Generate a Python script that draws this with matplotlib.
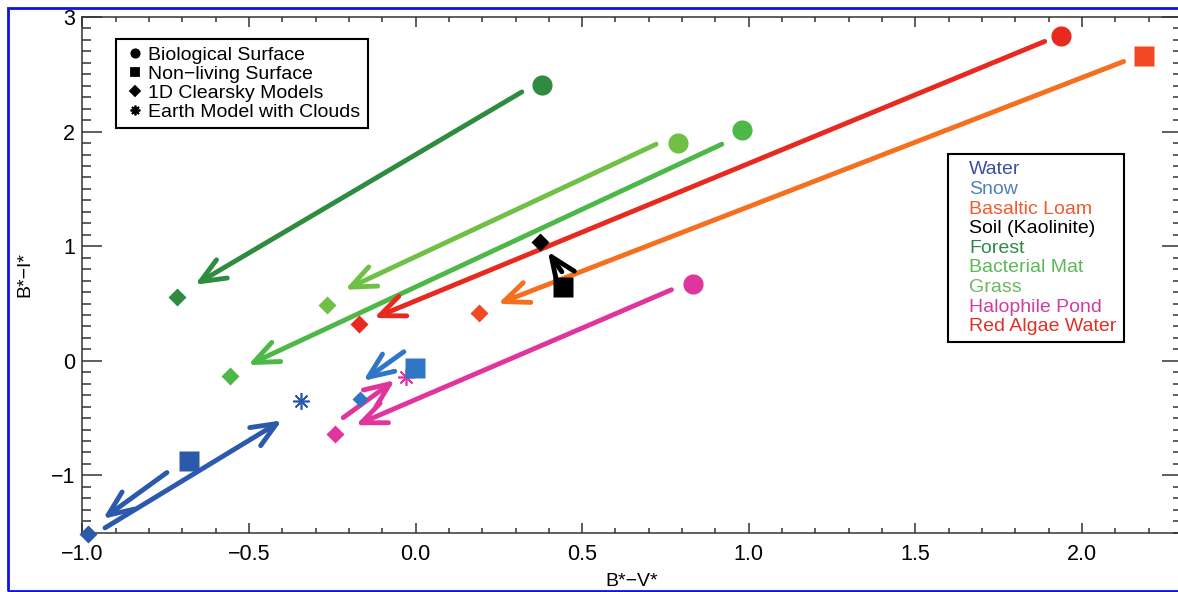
import matplotlib.pyplot as plt
from matplotlib.patches import Rectangle
from matplotlib.ticker import MultipleLocator, FuncFormatter

plt.rcParams['font.family'] = ['Liberation Sans', 'DejaVu Sans']

# colour indices: surface spectra and model points for each case
names = ['Water', 'Snow', 'Basaltic Loam', 'Soil (Kaolinite)', 'Forest',
         'Bacterial Mat', 'Grass', 'Halophile Pond', 'Red Algae Water']
colors = ['#2b59ab', '#2f77c6', '#f04923', 'black', '#2e8b40',
          '#4db848', '#6fc045', '#e0359d', '#e8291f']
text_colors = ['#3a4ea6', '#4f80c0', '#f05a30', 'black', '#2f8a48',
               '#5cb85a', '#6cb85a', '#d03ca0', '#e03028']

# surface points: 'o' = biological, 's' = non-living
surf_x = [-0.680, -0.002, 2.185, 0.442, 0.379, 0.980, 0.789, 0.833, 1.938]
surf_y = [-0.870, -0.067, 2.662, 0.646, 2.408, 2.013, 1.899, 0.672, 2.834]
surf_marker = ['s', 's', 's', 's', 'o', 'o', 'o', 'o', 'o']

# 1D clearsky model points
model_x = [-0.982, -0.167, 0.190, 0.373, -0.715, -0.557, -0.266, -0.242, -0.170]
model_y = [-1.513, -0.330, 0.415, 1.040, 0.561, -0.134, 0.488, -0.642, 0.319]
model_size = [9.5, 8, 9, 9, 9.5, 9.5, 9.5, 9.5, 9]

# earth model with clouds (water, halophile pond)
cloud_idx = [0, 7]
cloud_x = [-0.345, -0.029]
cloud_y = [-0.353, -0.140]

# arrows (tail -> head) and the case each belongs to
arrow_idx = [0, 0, 1, 2, 3, 4, 5, 6, 7, 7, 8]
arrow_x0 = [-0.746, -0.932, -0.035, 2.125, 0.439, 0.319, 0.919, 0.722, 0.768, -0.217, 1.888]
arrow_y0 = [-0.975, -1.458, 0.079, 2.612, 0.777, 2.346, 1.890, 1.890, 0.620, -0.496, 2.787]
arrow_x1 = [-0.938, -0.401, -0.157, 0.247, 0.397, -0.662, -0.503, -0.212, -0.180, -0.062, -0.125]
arrow_y1 = [-1.379, -0.520, -0.175, 0.497, 0.953, 0.663, -0.038, 0.620, -0.563, -0.169, 0.373]

arrow_colors = list(colors)
arrow_colors[2] = '#f4701f'

W, H = 1178, 592
fig = plt.figure(figsize=(W / 100, H / 100), dpi=100)
ax = fig.add_axes([82.3 / W, 1 - 532.7 / H, (1182 - 82.3) / W, (532.7 - 17) / H])

for k in range(len(arrow_idx)):
    ax.annotate('', xy=(arrow_x1[k], arrow_y1[k]), xytext=(arrow_x0[k], arrow_y0[k]),
                arrowprops=dict(arrowstyle='->,head_length=0.9,head_width=0.38',
                                lw=3.5, color=arrow_colors[arrow_idx[k]],
                                shrinkA=0, shrinkB=0, mutation_scale=20))

for k, i in enumerate(cloud_idx):
    ax.plot(cloud_x[k], cloud_y[k], marker=(8, 2, 0), ms=12, mew=1.2,
            color=colors[i], ls='none', zorder=3)
for i in range(len(names)):
    ax.plot(surf_x[i], surf_y[i], marker=surf_marker[i], ms=14.5,
            color=colors[i], mec='none', ls='none', zorder=4, clip_on=False)
    ax.plot(model_x[i], model_y[i], marker='D', ms=model_size[i],
            color=colors[i], mec='none', ls='none', zorder=4, clip_on=False)

ax.set_xlim(-1.0, 2.3)
ax.set_ylim(-1.5, 3.0)
ax.xaxis.set_major_locator(MultipleLocator(0.5))
ax.xaxis.set_minor_locator(MultipleLocator(0.1))
ax.yaxis.set_major_locator(MultipleLocator(1))
ax.yaxis.set_minor_locator(MultipleLocator(0.1))
ax.xaxis.set_major_formatter(FuncFormatter(lambda v, p: ('%.1f' % v).replace('-', '\u2212')))
ax.yaxis.set_major_formatter(FuncFormatter(lambda v, p: ('%d' % round(v)).replace('-', '\u2212')))
ax.tick_params(which='both', direction='in', top=True, right=True,
               width=1.1, color='#333333', labelsize=15.5)
ax.tick_params(axis='x', which='major', length=7.2, pad=8)
ax.tick_params(axis='x', which='minor', length=3.3)
ax.tick_params(axis='y', which='major', length=14.4, pad=5)
ax.tick_params(axis='y', which='minor', length=6.5)
for s in ax.spines.values():
    s.set_linewidth(1.1)
    s.set_color('#333333')

ax.set_xlabel('B*\u2212V*', fontsize=14, labelpad=6)
ax.set_ylabel('B*\u2212I*', fontsize=14, labelpad=13)


def fx(px):
    return px / W


def fy(py):
    return 1 - py / H


# marker-type key
fig.add_artist(Rectangle((fx(115.7), fy(127.7)), fx(367.7) - fx(115.7),
                         fy(39.3) - fy(127.7), fill=False, lw=1.5,
                         ec='black', transform=fig.transFigure))
key_labels = ['Biological Surface', 'Non\u2212living Surface',
              '1D Clearsky Models', 'Earth Model with Clouds']
key_markers = ['o', 's', 'D', (8, 2, 0)]
key_sizes = [6, 6, 5, 7]
for j, lab in enumerate(key_labels):
    yc = 53.3 + 19 * j
    fig.text(fx(147.7), fy(yc + 7), lab, fontsize=14, va='baseline')
    fig.add_artist(plt.Line2D([fx(135)], [fy(yc)], marker=key_markers[j],
                              ms=key_sizes[j], color='black', mew=1.3,
                              ls='none', transform=fig.transFigure))

# colour key
fig.add_artist(Rectangle((fx(948.3), fy(341.7)), fx(1124.3) - fx(948.3),
                         fy(154) - fy(341.7), fill=False, lw=1.5,
                         ec='black', transform=fig.transFigure))
for j, lab in enumerate(names):
    fig.text(fx(969.3), fy(167.3 + 19.6 * j + 7), lab, fontsize=14,
             va='baseline', color=text_colors[j])

# outer frame
fig.add_artist(Rectangle((fx(8), fy(590.5)), 1.1, fy(8) - fy(590.5),
                         fill=False, lw=2, ec='#1010f0',
                         transform=fig.transFigure))

plt.savefig('out.png', dpi=100)
